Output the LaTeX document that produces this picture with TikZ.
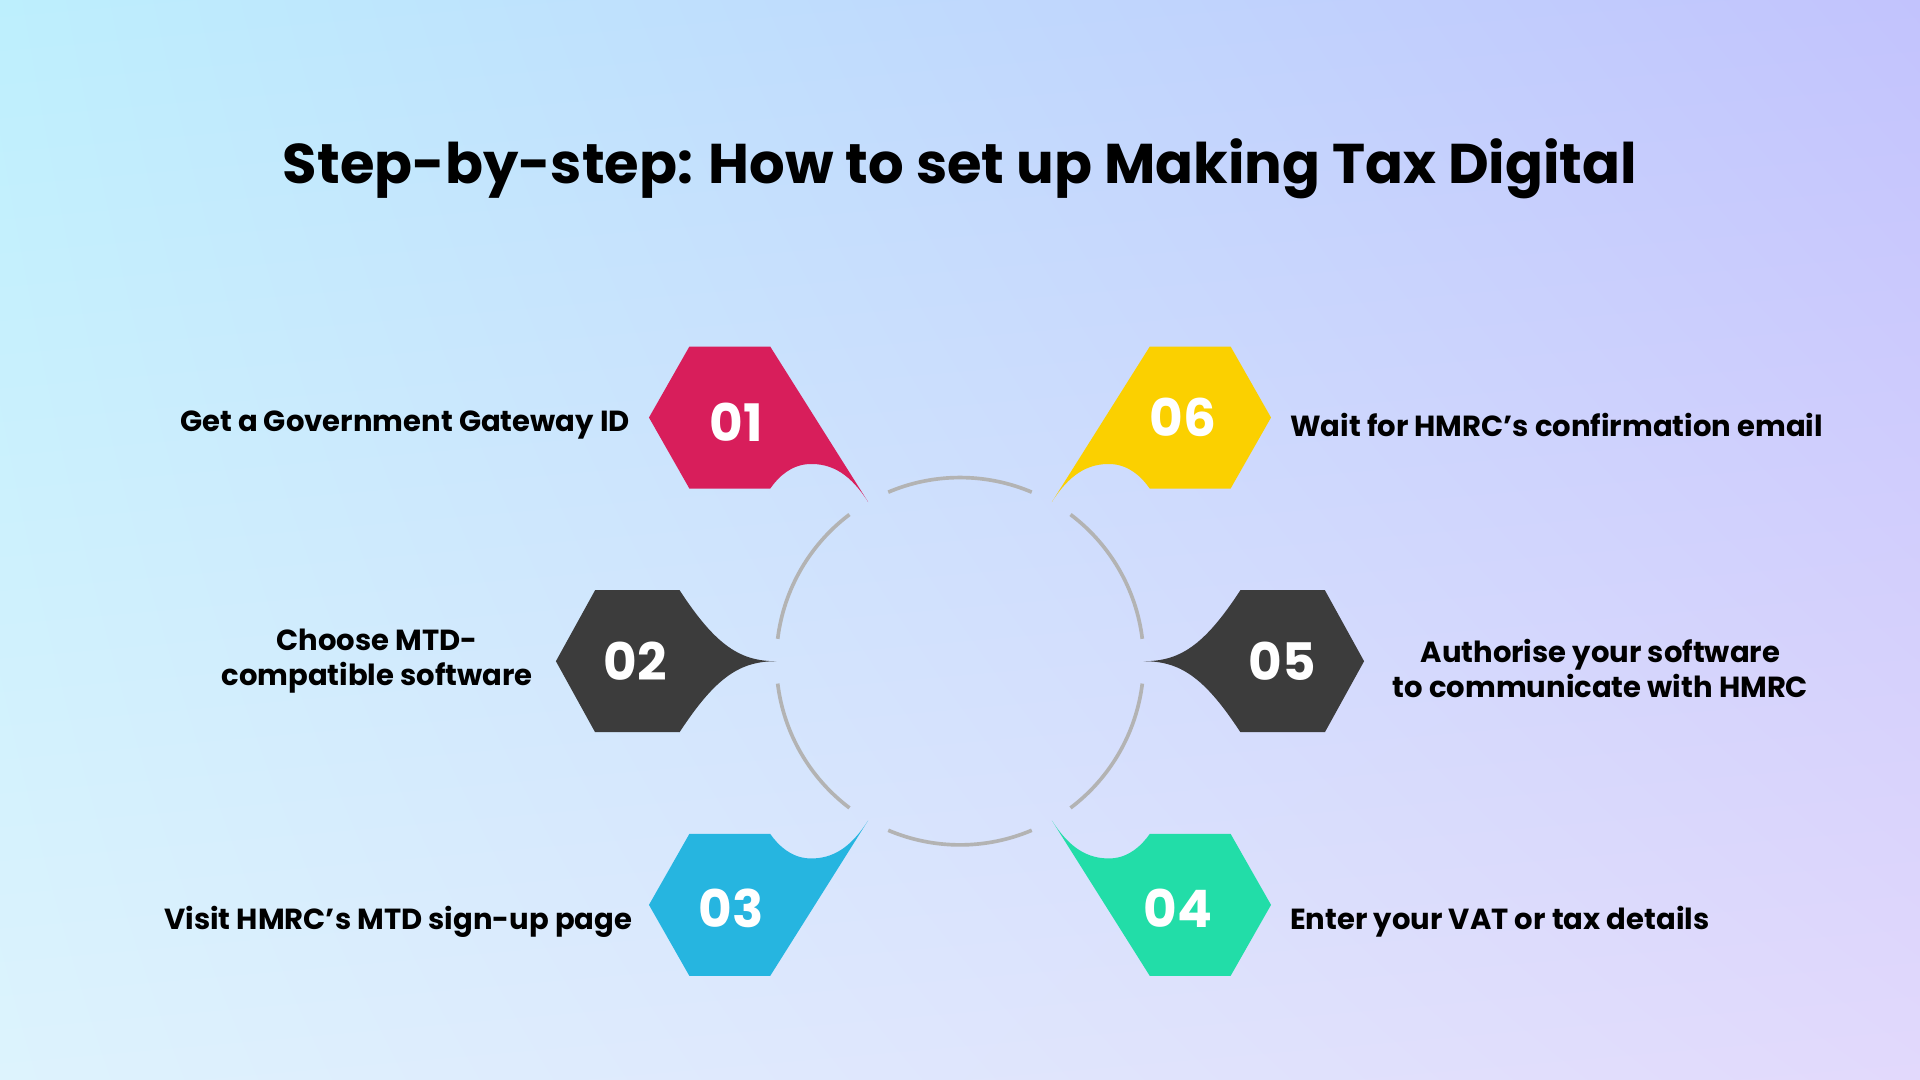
\documentclass[tikz,border=0pt]{standalone}
\usepackage{fontspec}
\setmainfont{Poppins}
\usetikzlibrary{shadings}
\definecolor{cA}{HTML}{D81E5B}
\definecolor{cB}{HTML}{3C3C3C}
\definecolor{cC}{HTML}{26B5E0}
\definecolor{cD}{HTML}{22DDA8}
\definecolor{cF}{HTML}{FBD000}
\definecolor{ring}{HTML}{B3B3B3}
\definecolor{bgUL}{HTML}{BDEFFD}
\definecolor{bgUR}{HTML}{C2C3FD}
\definecolor{bgLL}{HTML}{DDF3FD}
\definecolor{bgLR}{HTML}{E2D9FC}
\tikzset{
  num/.style={text=white,font=\fontsize{12}{12}\selectfont\bfseries},
  lbl/.style={text=black,font=\fontsize{6.75}{8.2}\selectfont\bfseries,align=center,inner sep=0pt},
  arcline/.style={draw=ring,line width=0.85pt}
}
\begin{document}
\begin{tikzpicture}[x=0.01cm,y=-0.01cm]
\shade[upper left=bgUL,upper right=bgUR,lower left=bgLL,lower right=bgLR] (0,0) rectangle (1568,882);
\useasboundingbox (0,0) rectangle (1568,882);
\node[font=\fontsize{13}{13}\selectfont\bfseries] (title) at (784,138) {Step-by-step: How to set up Making Tax Digital};
% ring arcs
\foreach \a in {0,60,...,300}{
  \draw[arcline] ({784+150*cos(\a+7)},{540-150*sin(\a+7)}) arc[start angle=-\a-7,end angle=-\a-53,radius=150];
}
% shapes 01 and 02 with mirrors
\def\shapeA{(530,341) -- (563,283) -- (629,283) -- (709,410) .. controls (695,388) and (680,378) .. (660,379) .. controls (646,380) and (636,389) .. (629,399) -- (563,399) -- cycle}
\def\shapeB{(454,540) -- (486,482) -- (555,482) .. controls (585,528) and (605,540) .. (634,540) .. controls (605,540) and (585,552) .. (555,598) -- (486,598) -- cycle}
\fill[cA] \shapeA;
\fill[cB] \shapeB;
\begin{scope}[xshift=1568*0.01cm,xscale=-1]
\fill[cF] \shapeA;
\fill[cB] \shapeB;
\end{scope}
\begin{scope}[yshift=-1080*0.01cm,yscale=-1]
\fill[cC] \shapeA;
\end{scope}
\begin{scope}[xshift=1568*0.01cm,xscale=-1,yshift=-1080*0.01cm,yscale=-1]
\fill[cD] \shapeA;
\end{scope}
\node[num] (n1) at (601,345) {01};
\node[num] (n2) at (519,540) {02};
\node[num] (n3) at (597,742) {03};
\node[num] (n4) at (962,742) {04};
\node[num] (n5) at (1047,540) {05};
\node[num] (n6) at (966,341) {06};
\node[lbl,anchor=east] (l1) at (515,347) {Get a Government Gateway ID};
\node[lbl] (l2) at (308,540) {Choose MTD-\\compatible software};
\node[lbl,anchor=east] (l3) at (517,753) {Visit HMRC’s MTD sign-up page};
\node[lbl,anchor=west] (l4) at (1053,753) {Enter your VAT or tax details};
\node[lbl] (l5) at (1307,546) {Authorise your software\\to communicate with HMRC};
\node[lbl,anchor=west] (l6) at (1053,347) {Wait for HMRC’s confirmation email};
\end{tikzpicture}
\end{document}
